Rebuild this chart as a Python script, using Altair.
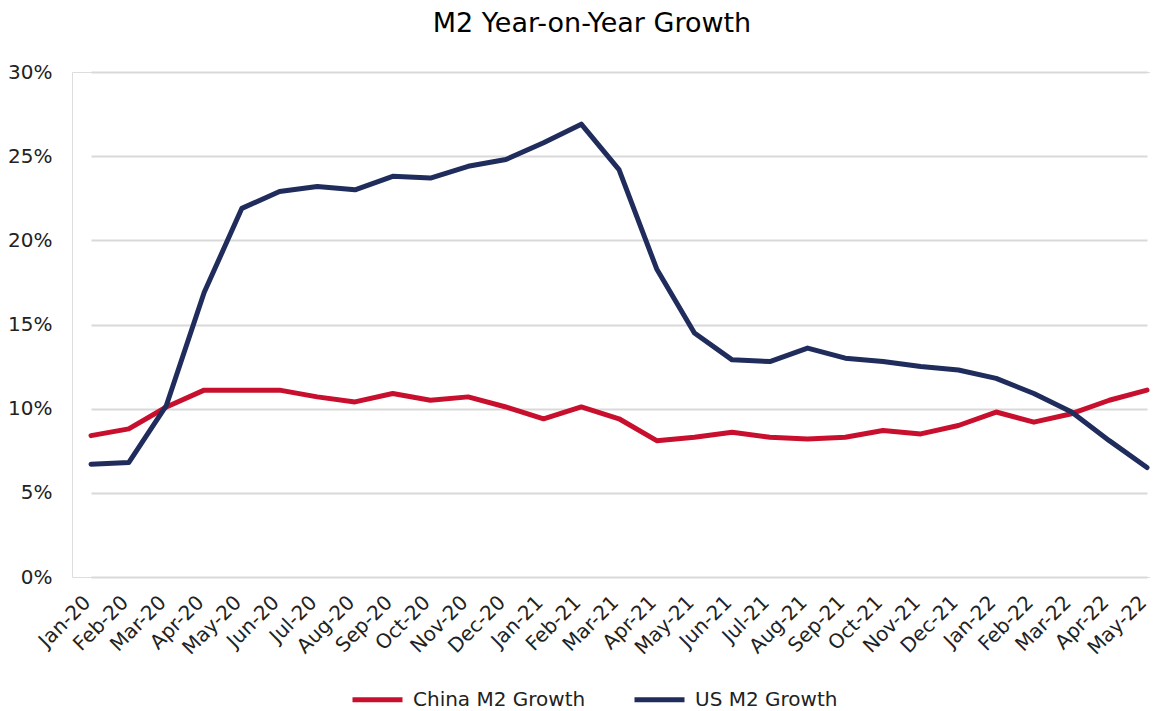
import altair as alt
import pandas as pd

months = ["Jan-20", "Feb-20", "Mar-20", "Apr-20", "May-20", "Jun-20", "Jul-20", "Aug-20",
          "Sep-20", "Oct-20", "Nov-20", "Dec-20", "Jan-21", "Feb-21", "Mar-21", "Apr-21",
          "May-21", "Jun-21", "Jul-21", "Aug-21", "Sep-21", "Oct-21", "Nov-21", "Dec-21",
          "Jan-22", "Feb-22", "Mar-22", "Apr-22", "May-22"]

china_m2 = [8.4, 8.8, 10.1, 11.1, 11.1, 11.1, 10.7, 10.4, 10.9, 10.5, 10.7, 10.1, 9.4, 10.1,
            9.4, 8.1, 8.3, 8.6, 8.3, 8.2, 8.3, 8.7, 8.5, 9.0, 9.8, 9.2, 9.7, 10.5, 11.1]

us_m2 = [6.7, 6.8, 10.2, 16.9, 21.9, 22.9, 23.2, 23.0, 23.8, 23.7, 24.4, 24.8, 25.8, 26.9,
         24.2, 18.3, 14.5, 12.9, 12.8, 13.6, 13.0, 12.8, 12.5, 12.3, 11.8, 10.9, 9.8, 8.1, 6.5]

series_names = ["China M2 Growth", "US M2 Growth"]
series_colors = ["#C8102E", "#1F2C5C"]

rows = []
for i, m in enumerate(months):
    rows.append({"month": m, "series": series_names[0], "value": china_m2[i] / 100, "order": i})
    rows.append({"month": m, "series": series_names[1], "value": us_m2[i] / 100, "order": i})
df = pd.DataFrame(rows)

FONT = "DejaVu Sans"

chart = alt.Chart(df).mark_line(strokeWidth=5, strokeCap="round", strokeJoin="round").encode(
    x=alt.X("month:O", sort=months, title=None,
            scale=alt.Scale(type="point", range=[19, 1075], padding=0),
            axis=alt.Axis(labelAngle=-45, labelAlign="right", labelBaseline="middle",
                          labelFontSize=20, labelFont=FONT, labelColor="#222222",
                          ticks=False, domain=False, labelPadding=22, labelOffset=-4,
                          grid=False)),
    y=alt.Y("value:Q", title=None,
            scale=alt.Scale(domain=[0, 0.30], nice=False),
            axis=alt.Axis(format=".0%", values=[0, 0.05, 0.10, 0.15, 0.20, 0.25, 0.30],
                          labelFontSize=20, labelFont=FONT, labelColor="#222222",
                          ticks=False, domain=False, labelPadding=20,
                          gridColor="#D9D9D9", gridWidth=2)),
    color=alt.Color("series:N", sort=series_names,
                    scale=alt.Scale(domain=series_names, range=series_colors),
                    legend=alt.Legend(title=None, orient="none", legendX=278, legendY=600,
                                      direction="horizontal", symbolType="stroke",
                                      symbolSize=2500, symbolStrokeWidth=5,
                                      labelFontSize=20, labelFont=FONT, labelColor="#222222",
                                      labelOffset=8, columnPadding=38, labelLimit=400)),
    order="order:Q",
).properties(
    width=1078,
    height=505,
    title=alt.TitleParams("M2 Year-on-Year Growth", fontSize=27, font=FONT,
                          fontWeight="normal", color="#000000", anchor="middle",
                          dx=-19, offset=24),
    padding={"left": 64, "top": 64, "right": 0, "bottom": 134},
    autosize=alt.AutoSizeParams(type="none"),
).configure_view(stroke=None).configure(background="white")

chart.save("out.html", embed_options={"renderer": "svg", "actions": False})
